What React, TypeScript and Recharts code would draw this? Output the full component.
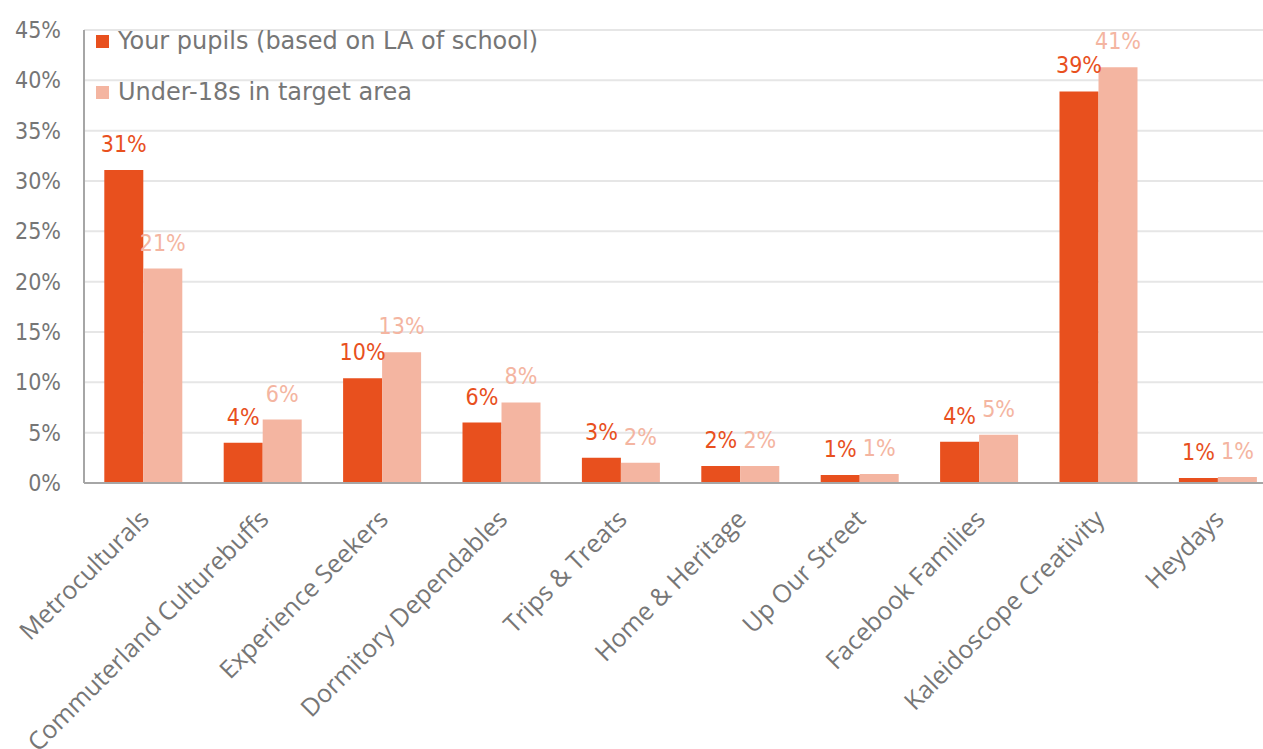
import { BarChart, Bar, XAxis, YAxis, CartesianGrid, LabelList } from 'recharts'

const categories = [
  'Metroculturals',
  'Commuterland Culturebuffs',
  'Experience Seekers',
  'Dormitory Dependables',
  'Trips & Treats',
  'Home & Heritage',
  'Up Our Street',
  'Facebook Families',
  'Kaleidoscope Creativity',
  'Heydays',
]
const pupils = [31.1, 4.0, 10.4, 6.0, 2.5, 1.7, 0.8, 4.1, 38.9, 0.5]
const under18s = [21.3, 6.3, 13.0, 8.0, 2.0, 1.7, 0.9, 4.8, 41.3, 0.6]
const yTicks = [0, 5, 10, 15, 20, 25, 30, 35, 40, 45]
const seriesNames = ['Your pupils (based on LA of school)', 'Under-18s in target area']

const DARK = '#E8501E'
const LIGHT = '#F4B5A1'
const GREY = '#767676'
const FONT = '"DejaVu Sans Condensed", "DejaVu Sans", sans-serif'

const data = categories.map((name, i) => ({ name, pupils: pupils[i], under18s: under18s[i] }))

const pct = (v: number) => `${Math.round(v)}%`

// rotated category labels, end of text sits just under the tick
const CategoryTick = ({ x, y, payload }: { x?: number; y?: number; payload?: { value: string } }) => (
  <g transform={`translate(${x},${y})`}>
    <text
      x={0}
      y={0}
      dx={-16}
      dy={26}
      textAnchor="end"
      transform="rotate(-45)"
      fill={GREY}
      fontSize={25}
      fontFamily='"Open Sans", sans-serif'
    >
      {payload?.value}
    </text>
  </g>
)

// legend sits inside the plot, top left
const LegendBox = () => (
  <div
    style={{
      position: 'absolute',
      left: 96,
      top: 16,
      fontFamily: '"DejaVu Sans", sans-serif',
      fontSize: 24,
      color: GREY,
      lineHeight: '51px',
    }}
  >
    {seriesNames.map((label, i) => (
      <div key={label} style={{ display: 'flex', alignItems: 'center' }}>
        <span
          style={{
            width: 13,
            height: 13,
            background: i === 0 ? DARK : LIGHT,
            marginRight: 9,
            display: 'inline-block',
          }}
        />
        {label}
      </div>
    ))}
  </div>
)

export default function App() {
  return (
    <div
      style={{
        position: 'absolute',
        left: 0,
        top: 0,
        width: 1263,
        height: 749,
        overflow: 'hidden',
        background: '#fff',
      }}
    >
      <BarChart
        width={1278}
        height={749}
        data={data}
        margin={{ top: 30, right: 0, left: 0, bottom: 0 }}
        barCategoryGap="17%"
        barGap={0}
      >
        <CartesianGrid vertical={false} stroke="#e6e6e6" strokeWidth={2} />
        <XAxis
          dataKey="name"
          interval={0}
          height={266}
          tick={<CategoryTick />}
          tickLine={false}
          axisLine={{ stroke: '#a6a6a6', strokeWidth: 2 }}
        />
        <YAxis
          domain={[0, 45]}
          ticks={yTicks}
          width={84}
          tickFormatter={(v: number) => `${v}%`}
          tick={{ fill: GREY, fontSize: 23, fontFamily: FONT }}
          tickLine={false}
          tickMargin={17}
          axisLine={{ stroke: '#a6a6a6', strokeWidth: 2 }}
        />
        <Bar dataKey="pupils" name={seriesNames[0]} fill={DARK} isAnimationActive={false}>
          <LabelList
            dataKey="pupils"
            position="top"
            offset={18}
            formatter={(v: number) => pct(v)}
            fill={DARK}
            fontSize={23}
            fontFamily={FONT}
          />
        </Bar>
        <Bar dataKey="under18s" name={seriesNames[1]} fill={LIGHT} isAnimationActive={false}>
          <LabelList
            dataKey="under18s"
            position="top"
            offset={18}
            formatter={(v: number) => pct(v)}
            fill={LIGHT}
            fontSize={23}
            fontFamily={FONT}
          />
        </Bar>
      </BarChart>
      <LegendBox />
    </div>
  )
}
